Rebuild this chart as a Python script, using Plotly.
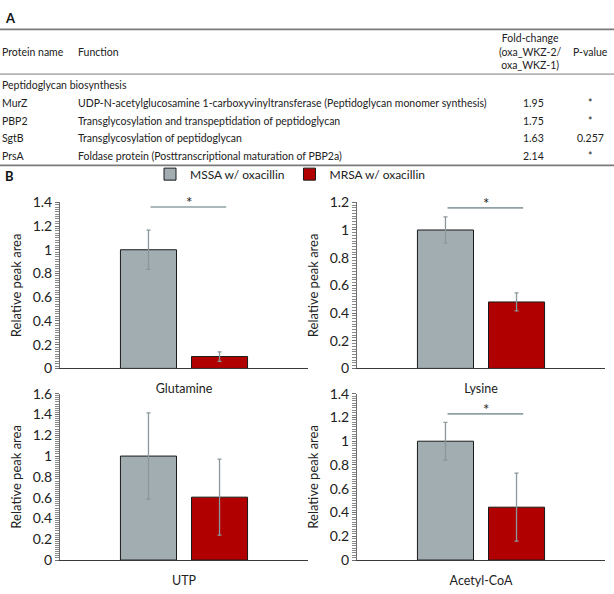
import plotly.graph_objects as go

# ---------------- data ----------------
metabolites = ["Glutamine", "Lysine", "UTP", "Acetyl-CoA"]
mssa_mean = [1.0, 1.0, 1.0, 1.0]
mssa_err = [0.165, 0.095, 0.415, 0.158]
mrsa_mean = [0.10, 0.48, 0.605, 0.445]
mrsa_err = [0.04, 0.065, 0.365, 0.286]
y_max = [1.4, 1.2, 1.6, 1.4]
significant = [True, True, False, True]
sig_level = [1.36, 1.16, None, 1.23]

series_names = ["MSSA w/ oxacillin", "MRSA w/ oxacillin"]
series_colors = ["#a1adb0", "#b00000"]

table_header = ["Protein name", "Function", "Fold-change<br>(oxa_WKZ-2/<br>oxa_WKZ-1)", "P-value"]
table_section = "Peptidoglycan biosynthesis"
table_proteins = ["MurZ", "PBP2", "SgtB", "PrsA"]
table_functions = [
    "UDP-N-acetylglucosamine 1-carboxyvinyltransferase (Peptidoglycan monomer synthesis)",
    "Transglycosylation and transpeptidation of peptidoglycan",
    "Transglycosylation of peptidoglycan",
    "Foldase protein (Posttranscriptional maturation of PBP2a)",
]
table_fold = ["1.95", "1.75", "1.63", "2.14"]
table_pvalues = ["*", "*", "0.257", "*"]

# ---------------- layout helpers ----------------
W, H = 614, 594
FONT = "Lato"


def px(x):
    return x / W


def py(y):
    return 1 - y / H


fig = go.Figure()

# panel B subplot domains (pixels)
x_doms = [(60, 308), (357, 605), (60, 308), (357, 605)]
y_doms = [(199, 370), (199, 370), (396, 567.3), (396, 567.3)]

for i, m in enumerate(metabolites):
    xa = "x" if i == 0 else f"x{i+1}"
    ya = "y" if i == 0 else f"y{i+1}"
    for s, (name, col, means, errs) in enumerate(
        zip(series_names, series_colors, [mssa_mean, mrsa_mean], [mssa_err, mrsa_err])
    ):
        fig.add_trace(
            go.Bar(
                x=[m],
                y=[means[i]],
                name=name,
                legendgroup=name,
                showlegend=(i == 0),
                marker=dict(color=col, line=dict(color="#1a1a1a", width=1)),
                error_y=dict(type="data", array=[errs[i]], color="#8a979b",
                             thickness=1.3, width=2),
                xaxis=xa,
                yaxis=ya,
                offsetgroup=str(s),
            )
        )

axis_font = dict(family=FONT, size=12.5, color="#222")
layout_axes = {}
for i, m in enumerate(metabolites):
    xk = "xaxis" if i == 0 else f"xaxis{i+1}"
    yk = "yaxis" if i == 0 else f"yaxis{i+1}"
    yref = "y" if i == 0 else f"y{i+1}"
    xd, yd = x_doms[i], y_doms[i]
    layout_axes[xk] = dict(
        domain=[px(xd[0]), px(xd[1])],
        anchor=yref,
        type="category",
        range=[-0.5, 0.5],
        showline=True,
        linecolor="#3a3a3a",
        linewidth=1,
        ticks="",
        showgrid=False,
        tickfont=axis_font,
        ticklabelstandoff=9,
        fixedrange=True,
    )
    layout_axes[yk] = dict(
        domain=[py(yd[1]), py(yd[0])],
        anchor="x" if i == 0 else f"x{i+1}",
        range=[0, y_max[i]],
        dtick=0.2,
        showline=True,
        linecolor="#6e6e6e",
        linewidth=1,
        ticks="outside",
        ticklen=4,
        tickcolor="#6e6e6e",
        minor=dict(dtick=0.02, ticks="outside", ticklen=4, tickcolor="#8a8a8a"),
        showgrid=False,
        zeroline=False,
        tickfont=dict(family=FONT, size=14, color="#222"),
        title=dict(text="Relative peak area", font=dict(family=FONT, size=13, color="#222"),
                   standoff=8),
        fixedrange=True,
    )

shapes = []
annotations = []

# significance brackets
for i in range(len(metabolites)):
    if significant[i]:
        xr = "x" if i == 0 else f"x{i+1}"
        yr = "y" if i == 0 else f"y{i+1}"
        shapes.append(dict(type="line", xref=xr, yref=yr, x0=-0.135, x1=0.17,
                           y0=sig_level[i], y1=sig_level[i],
                           line=dict(color="#8fa0a6", width=1.6)))
        annotations.append(dict(xref=xr, yref=yr, x=0.02, y=sig_level[i], text="*",
                                showarrow=False, yanchor="middle", yshift=5,
                                font=dict(family=FONT, size=15, color="#222")))

# ---------------- panel A table ----------------
tfont = dict(family=FONT, size=10.5, color="#222")
rule_col = "#7a7a7a"


def text_ann(x, y, t, anchor="left", font=tfont):
    annotations.append(dict(xref="paper", yref="paper", x=px(x), y=py(y), text=t,
                            showarrow=False, xanchor=anchor, yanchor="middle", font=font))


def hrule(y, w=1.2):
    shapes.append(dict(type="line", xref="paper", yref="paper", x0=0, x1=1,
                       y0=py(y), y1=py(y), line=dict(color=rule_col, width=w)))


text_ann(3, 9, "<b>A</b>", font=dict(family=FONT, size=13, color="#111"))
hrule(21, 1.6)
header_y = 44
col_x = [0, 76, 530, 590]
text_ann(col_x[0], header_y, table_header[0])
text_ann(col_x[1], header_y, table_header[1])
text_ann(col_x[2], header_y, table_header[2], anchor="center")
text_ann(col_x[3], header_y, table_header[3], anchor="center")
hrule(67, 1)
text_ann(col_x[0], 78, table_section)
row_y0, row_h = 96.5, 18.4
for r in range(len(table_proteins)):
    yy = row_y0 + r * row_h
    text_ann(col_x[0], yy, table_proteins[r])
    text_ann(col_x[1], yy, table_functions[r])
    text_ann(col_x[2] + 3, yy, table_fold[r], anchor="center")
    text_ann(col_x[3], yy, table_pvalues[r], anchor="center")
hrule(161, 1.6)
text_ann(3, 172, "<b>B</b>", font=dict(family=FONT, size=13, color="#111"))

fig.update_layout(
    width=W,
    height=H,
    margin=dict(l=0, r=0, t=0, b=0),
    paper_bgcolor="white",
    plot_bgcolor="white",
    barmode="group",
    bargap=0.427,
    bargroupgap=0.211,
    showlegend=True,
    legend=dict(orientation="h", x=px(150), xanchor="left", y=py(170), yanchor="middle",
                font=dict(family=FONT, size=12, color="#222"), bgcolor="rgba(0,0,0,0)",
                itemclick=False, itemdoubleclick=False),
    shapes=shapes,
    annotations=annotations,
    **layout_axes,
)

fig.write_html("out.html", config={"displayModeBar": False},
               post_script="document.body.style.margin='0px';")
